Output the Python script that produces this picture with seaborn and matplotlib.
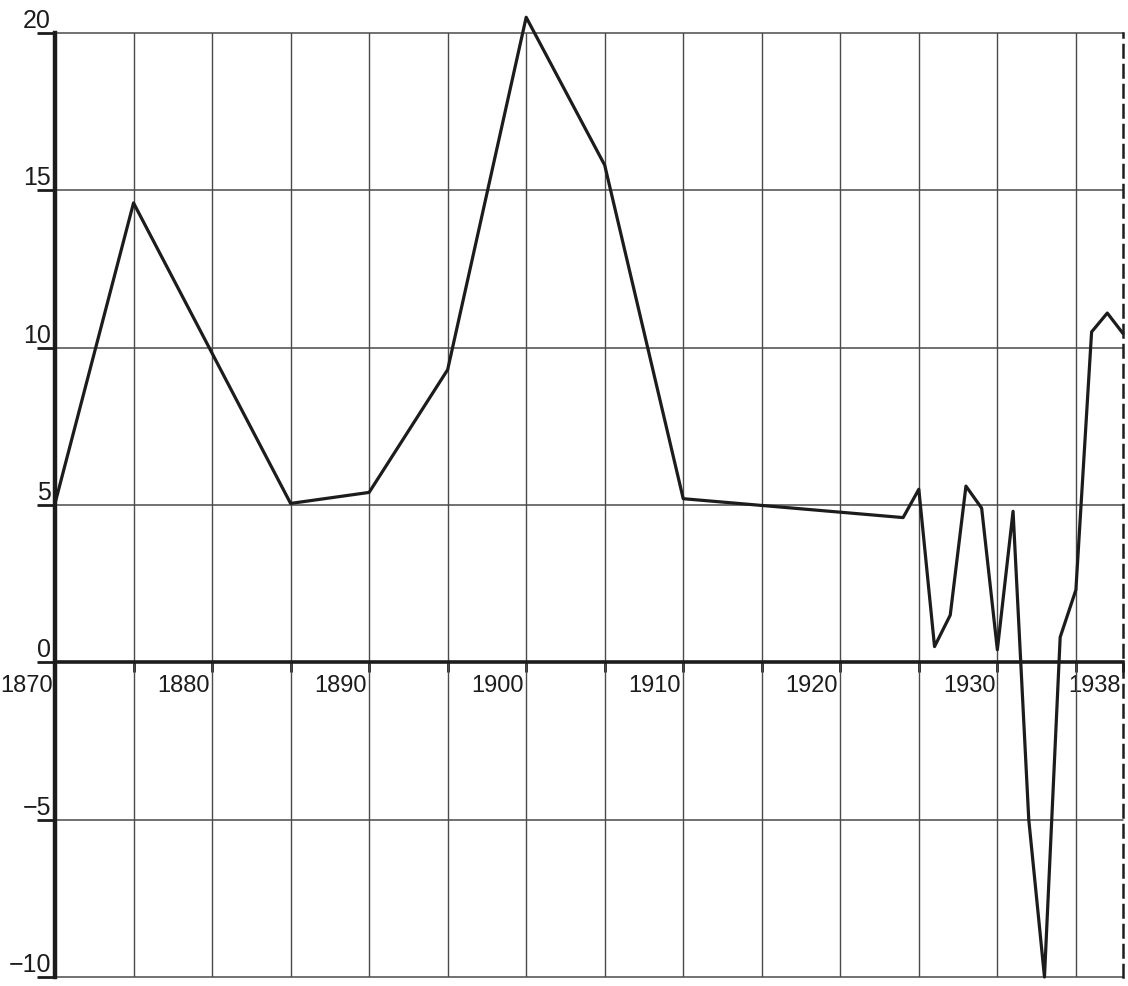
import numpy as np
import pandas as pd
import matplotlib
matplotlib.use('Agg')
import matplotlib.pyplot as plt
import matplotlib.transforms as mtransforms
import seaborn as sns

# values
years = [1870, 1875, 1885, 1890, 1895, 1900, 1905, 1910,
         1924, 1925, 1926, 1927, 1928, 1929, 1930, 1931,
         1932, 1933, 1934, 1935, 1936, 1937, 1938]
values = [5.05, 14.6, 5.05, 5.4, 9.3, 20.5, 15.8, 5.2,
          4.6, 5.5, 0.5, 1.5, 5.6, 4.9, 0.4, 4.8,
          -5.0, -10.0, 0.8, 2.3, 10.5, 11.1, 10.45]

x_major = [1870, 1880, 1890, 1900, 1910, 1920, 1930, 1938]
x_labels = ['1870', '1880', '1890', '1900', '1910', '1920', '1930', '1938']
x_minor = [1875, 1885, 1895, 1905, 1915, 1925, 1935]
y_ticks = [-10, -5, 0, 5, 10, 15, 20]
y_labels = ['\u221210', '\u22125', '0', '5', '10', '15', '20']

df = pd.DataFrame({'year': years, 'value': values})

sns.set_style('white')
plt.rcParams['font.family'] = ['Liberation Sans', 'DejaVu Sans']

ink = '#1c1c1c'
grid_c = '#4a4a4a'

fig = plt.figure(figsize=(11.28, 9.86), dpi=100)
ax = fig.add_axes([55/1128, 1 - 977/986, (1123 - 55)/1128, (977 - 33)/986])

# grid
for gx in x_minor + x_major[1:-1]:
    ax.axvline(gx, color=grid_c, lw=1.0, zorder=1)
for gy in y_ticks:
    if gy != 0:
        ax.axhline(gy, color=grid_c, lw=1.1, zorder=1, clip_on=False)

sns.lineplot(data=df, x='year', y='value', ax=ax, color=ink, lw=2.3,
             clip_on=False, zorder=5)

ax.set_xlim(1870, 1938)
ax.set_ylim(-10, 20)
ax.set_xlabel('')
ax.set_ylabel('')

ax.spines['top'].set_visible(False)
ax.spines['left'].set_linewidth(3.2)
ax.spines['left'].set_color(ink)
ax.spines['bottom'].set_position(('data', 0))
ax.spines['bottom'].set_linewidth(2.6)
ax.spines['bottom'].set_color(ink)
ax.spines['right'].set_linestyle((0, (5, 3)))
ax.spines['right'].set_linewidth(1.8)
ax.spines['right'].set_color(ink)

ax.set_yticks(y_ticks)
ax.set_yticklabels(y_labels, va='bottom')
ax.tick_params(axis='y', direction='out', length=13, width=2, pad=-10,
               labelsize=18, color=ink, labelcolor=ink, left=True)

ax.set_xticks(x_major)
ax.set_xticklabels(x_labels, ha='right')
ax.set_xticks(x_minor, minor=True)
ax.tick_params(axis='x', which='both', direction='out', length=7, width=2,
               pad=2, labelsize=17, color=ink, labelcolor=ink, bottom=True)

shift = mtransforms.ScaledTranslation(-1.5/72, 0, fig.dpi_scale_trans)
for lab in ax.get_xticklabels():
    lab.set_transform(lab.get_transform() + shift)

fig.savefig('out.png', dpi=100, facecolor='white')
